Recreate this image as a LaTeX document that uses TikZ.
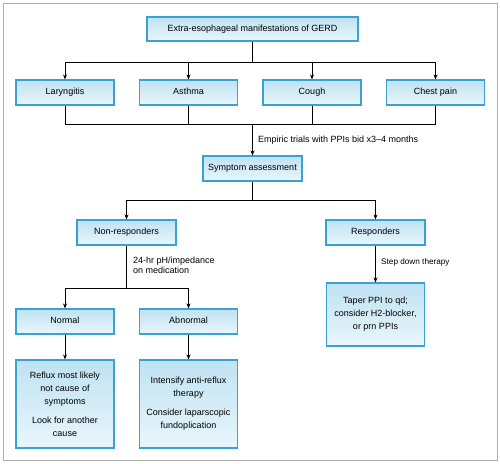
\documentclass[tikz,border=0pt]{standalone}
\usepackage{fontspec}
\setmainfont{Liberation Sans}
\usetikzlibrary{arrows.meta}
\definecolor{bordblue}{HTML}{3AA2D2}
\definecolor{fillA}{HTML}{BFE2F2}
\definecolor{fillB}{HTML}{E9F6FC}
\definecolor{framegray}{HTML}{B0B0B0}
\begin{document}
\begin{tikzpicture}[x=1pt,y=-1pt,
  box/.style={draw=bordblue, line width=1.1pt, left color=fillA, right color=fillB,
    shading angle=0, minimum width=98pt, minimum height=25pt, inner sep=2pt,
    align=center, font=\fontsize{9}{13}\selectfont},
  one/.style={text height=6.5pt, text depth=1.8pt},
  conn/.style={line width=0.9pt, black},
  arr/.style={conn, -{Stealth[length=5pt,width=4pt]}},
  lab/.style={font=\fontsize{9}{10}\selectfont, anchor=west, align=left, inner sep=0pt},
  smalllab/.style={font=\fontsize{8.2}{9}\selectfont, anchor=west, inner sep=0pt}]
\useasboundingbox (0,0) rectangle (500,463);
\draw[framegray, line width=1pt] (3,3) rectangle (497,460);

\node[box, one, minimum width=211pt, minimum height=24pt] (top) at (252.5,29) {Extra-esophageal manifestations of GERD};
\node[box, one] (lar) at (65,92.5) {Laryngitis};
\node[box, one] (ast) at (188.5,92.5) {Asthma};
\node[box, one] (cou) at (312,92.5) {Cough};
\node[box, one] (che) at (435.5,92.5) {Chest pain};
\node[box, one, minimum width=99pt] (sym) at (252.5,168.5) {Symptom assessment};
\node[box, one, minimum width=99pt] (non) at (126.5,232.5) {Non-responders};
\node[box, one, minimum width=99pt] (res) at (375.5,232.5) {Responders};
\node[box, one] (nor) at (65,321.5) {Normal};
\node[box, one] (abn) at (188.5,321.5) {Abnormal};
\node[box, minimum height=88pt] (nord) at (65,404) {Reflux most likely\\not cause of\\symptoms\\[6pt]Look for another\\cause};
\node[box, minimum height=88pt] (abnd) at (188.5,404) {Intensify anti-reflux\\therapy\\[6pt]Consider laparscopic\\fundoplication};
\node[box, minimum height=63pt] (tap) at (375.5,314.5) {Taper PPI to qd;\\consider H2-blocker,\\or prn PPIs};

% top split
\coordinate (s1) at (252.5,62);
\draw[conn] (top.south) -- (s1);
\draw[arr] (s1) -| (lar.north);
\draw[arr] (s1) -| (ast.north);
\draw[arr] (s1) -| (cou.north);
\draw[arr] (s1) -| (che.north);
% merge
\coordinate (m1) at (252.5,124);
\draw[conn] (lar.south) |- (m1);
\draw[conn] (ast.south) |- (m1);
\draw[conn] (cou.south) |- (m1);
\draw[conn] (che.south) |- (m1);
\draw[arr] (m1) -- (sym.north);
\node[lab] (emp) at (258,140) {Empiric trials with PPIs bid x3–4 months};
% symptom split
\coordinate (s2) at (252.5,200);
\draw[conn] (sym.south) -- (s2);
\draw[arr] (s2) -| (non.north);
\draw[arr] (s2) -| (res.north);
% non-responders split
\coordinate (s3) at (126.5,288);
\draw[conn] (non.south) -- (s3);
\draw[arr] (s3) -| (nor.north);
\draw[arr] (s3) -| (abn.north);
\node[lab] (ph) at (133,265.5) {24-hr pH/impedance\\on medication};
% responders
\draw[arr] (res.south) -- (tap.north);
\node[smalllab] (step) at (381,262) {Step down therapy};
% details
\draw[arr] (nor.south) -- (nord.north);
\draw[arr] (abn.south) -- (abnd.north);
\end{tikzpicture}
\end{document}
